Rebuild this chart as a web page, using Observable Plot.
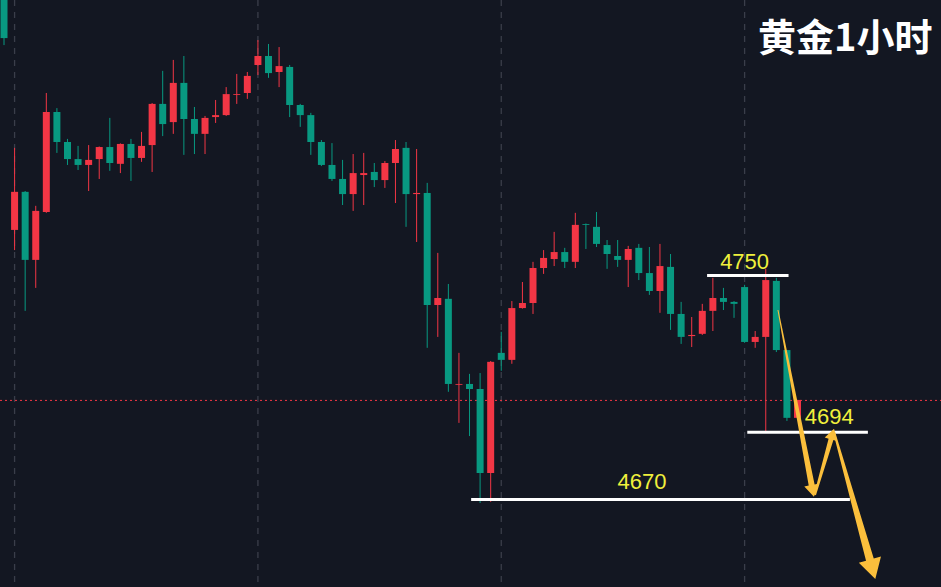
<!DOCTYPE html>
<html><head><meta charset="utf-8">
<script src="https://cdn.jsdelivr.net/npm/d3@7"></script>
<script src="https://cdn.jsdelivr.net/npm/@observablehq/plot@0.6"></script>
<style>html,body{margin:0;padding:0;background:#131722;overflow:hidden;}</style>
</head><body><div id="chart"></div>
<script>
// Gold 1-hour candles (price units), index = candle number
const openP = [4858.9,4766.1,4779.7,4755.4,4772.5,4808.2,4797.5,4791.4,4789.3,4791.4,4795.7,4789.7,4796.8,4791.8,4796.4,4811.1,4804.6,4818.6,4805.7,4800.4,4806.4,4807.1,4814.3,4815.0,4825.0,4828.2,4822.5,4824.3,4810.7,4807.1,4797.5,4789.3,4784.3,4778.9,4785.7,4786.8,4783.9,4790.0,4795.4,4778.9,4779.3,4739.3,4741.5,4710.8,4711.1,4709.3,4679.3,4722.2,4719.7,4738.2,4740.0,4752.5,4755.7,4758.2,4754.7,4768.2,4767.2,4760.7,4756.8,4755.4,4759.7,4750.7,4744.3,4752.9,4736.1,4728.2,4729.0,4737.2,4741.8,4740.4,4745.7,4726.1,4727.9,4747.9,4723.2,4699.0];
const highP = [4860.7,4795.4,4780.0,4774.7,4815.0,4809.6,4798.6,4796.1,4796.4,4795.9,4806.1,4797.0,4798.6,4801.1,4811.4,4822.9,4826.8,4828.2,4810.0,4806.8,4812.5,4817.1,4821.8,4822.5,4833.9,4832.5,4831.4,4825.0,4811.1,4807.9,4798.2,4797.1,4791.1,4793.2,4793.6,4790.0,4790.7,4798.2,4797.5,4795.0,4782.9,4757.9,4746.8,4722.2,4714.7,4715.0,4719.3,4729.7,4740.7,4747.5,4754.7,4758.9,4765.4,4759.7,4772.2,4768.4,4772.5,4762.5,4762.5,4760.4,4761.1,4760.0,4761.1,4757.5,4740.4,4735.0,4739.7,4749.0,4745.4,4740.7,4746.5,4730.0,4752.2,4749.0,4723.2,4705.4];
const lowP = [4832.1,4758.9,4737.2,4745.4,4772.2,4793.6,4789.3,4787.5,4780.0,4784.3,4787.2,4786.4,4783.6,4790.4,4786.8,4799.6,4800.4,4792.9,4793.2,4793.2,4804.3,4806.8,4811.1,4812.9,4821.4,4820.4,4817.1,4806.4,4802.9,4792.9,4788.9,4783.6,4775.0,4772.9,4775.0,4781.4,4781.1,4775.7,4767.2,4761.8,4724.0,4727.9,4708.3,4697.2,4692.5,4668.6,4669.0,4715.8,4718.3,4738.0,4736.1,4750.4,4753.2,4752.5,4752.5,4759.3,4760.0,4752.2,4752.9,4745.7,4748.2,4742.9,4736.5,4730.4,4725.4,4724.3,4728.6,4730.0,4737.5,4734.7,4725.8,4724.0,4694.0,4722.5,4697.9,4699.0];
const closeP = [4834.6,4779.7,4755.4,4772.9,4808.2,4797.5,4791.4,4789.3,4791.1,4795.7,4790.0,4796.8,4791.8,4796.1,4811.1,4803.9,4818.6,4805.7,4800.4,4806.1,4807.1,4814.6,4814.6,4821.1,4828.2,4822.1,4824.6,4810.7,4807.1,4797.5,4789.3,4784.3,4778.9,4786.4,4786.4,4783.9,4790.0,4795.0,4778.9,4779.3,4739.3,4741.8,4711.1,4711.1,4709.3,4679.3,4719.0,4719.7,4738.2,4740.0,4752.5,4756.1,4758.2,4754.7,4767.9,4767.9,4761.1,4757.5,4755.4,4759.3,4750.7,4744.3,4753.2,4736.1,4727.9,4728.6,4737.2,4741.8,4740.4,4739.7,4726.1,4727.9,4748.2,4723.2,4699.0,4705.4];

// session separators (candle index)
const dayBreaks = [1, 24, 47, 70];

// annotated price levels
const levels = [4750, 4694, 4670];
const levelStart = [66.5, 70.3, 44.2];
const levelEnd = [74.2, 81.7, 80.0];
const levelLabelX = [70.0, 78.0, 60.3];

// projected path arrows [index, price]
const arrowFrom = [[73.2, 4737.5], [76.7, 4671.5], [78.5, 4694.0]];
const arrowTo   = [[76.6, 4670.8], [78.5, 4695.1], [82.4, 4641.5]];

const title = "黄金1小时";

const RED = "#f23645", GREEN = "#089981";
const candles = openP.map((o, i) => ({i, open: o, high: highP[i], low: lowP[i], close: closeP[i], up: closeP[i] > o}));
const lastPrice = closeP[closeP.length - 1];
const levelRows = levels.map((p, k) => ({price: p, start: levelStart[k], end: levelEnd[k], lx: levelLabelX[k], label: String(p)}));
const labelDy = [-13.4, -14.9, -17.2];

const chart = Plot.plot({
  width: 941, height: 587, margin: 0,
  style: {background: "#131722", overflow: "hidden"},
  x: {domain: [-0.331, 88.61], axis: null},
  y: {domain: [4638.6, 4848.2], axis: null},
  marks: [
    Plot.ruleX(dayBreaks, {x: d => d, stroke: "#3a3e4a", strokeDasharray: "6,6", strokeWidth: 1.3}),
    Plot.ruleY([lastPrice], {y: d => d, stroke: RED, strokeDasharray: "2,3", strokeWidth: 1}),
    Plot.ruleX(candles.filter(d => d.up), {x: "i", y1: "low", y2: "high", stroke: RED, strokeWidth: 1}),
    Plot.ruleX(candles.filter(d => !d.up), {x: "i", y1: "low", y2: "high", stroke: GREEN, strokeWidth: 1}),
    Plot.ruleX(candles.filter(d => d.up), {x: "i", y1: "open", y2: "close", stroke: RED, strokeWidth: 7}),
    Plot.ruleX(candles.filter(d => !d.up), {x: "i", y1: "open", y2: "close", stroke: GREEN, strokeWidth: 7}),
    Plot.ruleY(levelRows, {y: "price", x1: "start", x2: "end", stroke: "#ffffff", strokeWidth: 3}),
    ...levelRows.map((r, k) => Plot.text([r], {x: "lx", y: "price", text: "label", dy: labelDy[k], fill: "#f0f03c", fontSize: 22, fontFamily: "Liberation Sans, Arial, sans-serif"})),
    Plot.text([title], {frameAnchor: "top-right", text: d => d, textAnchor: "end", lineAnchor: "middle", dx: -9, dy: 38, fill: "#ffffff", fontSize: 38, fontWeight: "bold", fontFamily: "Noto Sans CJK SC"})
  ]
});

// tapered arrows positioned through Plot's scales
const sx = chart.scale("x").apply, sy = chart.scale("y").apply;
const arrowStyle = [
  {w0: 1, w1: 6, hw: 15, hl: 12},
  {w0: 2, w1: 5, hw: 13, hl: 11},
  {w0: 2, w1: 8, hw: 23, hl: 20}
];
const g = d3.select(chart).append("g");
arrowFrom.forEach((f, k) => {
  const t = arrowTo[k], s = arrowStyle[k];
  const S = [sx(f[0]), sy(f[1])], E = [sx(t[0]), sy(t[1])];
  const dx = E[0] - S[0], dy = E[1] - S[1], L = Math.hypot(dx, dy);
  const u = [dx / L, dy / L], n = [-u[1], u[0]];
  const B = [E[0] - u[0] * s.hl, E[1] - u[1] * s.hl];
  const p = (P, w) => [P[0] + n[0] * w / 2, P[1] + n[1] * w / 2];
  const pts = [p(S, s.w0), p(B, s.w1), p(B, s.hw), E, p(B, -s.hw), p(B, -s.w1), p(S, -s.w0)];
  g.append("polygon").attr("points", pts.map(q => q.join(",")).join(" ")).attr("fill", "#fbbf3c");
});

document.getElementById("chart").appendChild(chart);
</script>
</body></html>
